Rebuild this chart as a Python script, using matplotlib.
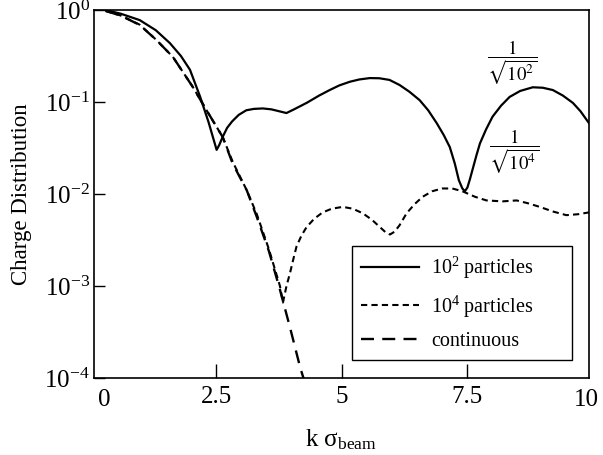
import matplotlib

matplotlib.use("Agg")
import matplotlib.pyplot as plt
import numpy as np
from matplotlib.ticker import FixedLocator, NullLocator

plt.rcParams["font.family"] = "serif"
plt.rcParams["font.serif"] = ["Liberation Serif", "DejaVu Serif"]
plt.rcParams["mathtext.fontset"] = "stix"

# values, stored as log10 of the charge distribution
k_solid = [0.3, 0.6, 0.98, 1.3, 1.58, 1.8, 1.98, 2.18, 2.35, 2.51, 2.56, 2.63, 2.72,
           2.82, 2.95, 3.1, 3.25, 3.43, 3.6, 3.75, 3.9, 4.05, 4.3, 4.55, 4.76, 4.95,
           5.16, 5.35, 5.56, 5.75, 5.95, 6.15, 6.35, 6.55, 6.72, 6.89, 7.03, 7.15,
           7.25, 7.33, 7.4, 7.45, 7.5, 7.55, 7.6, 7.68, 7.75, 7.87, 8.0, 8.17, 8.34,
           8.55, 8.8, 9.0, 9.2, 9.4, 9.6, 9.75, 9.92]
log_solid = [0.0, -0.04, -0.11, -0.22, -0.36, -0.50, -0.65, -0.94, -1.22, -1.52, -1.47,
             -1.38, -1.28, -1.21, -1.14, -1.09, -1.075, -1.07, -1.08, -1.10, -1.12,
             -1.08, -1.01, -0.93, -0.87, -0.82, -0.78, -0.755, -0.74, -0.742, -0.76,
             -0.815, -0.89, -0.98, -1.09, -1.23, -1.36, -1.49, -1.67, -1.85, -1.94,
             -1.97, -1.93, -1.84, -1.74, -1.58, -1.45, -1.30, -1.16, -1.04, -0.945,
             -0.88, -0.84, -0.845, -0.87, -0.93, -1.01, -1.10, -1.23]

k_dotted = [0.3, 0.6, 0.98, 1.3, 1.64, 2.04, 2.31, 2.63, 2.83, 3.11, 3.31, 3.55, 3.77,
            3.83, 3.9, 3.97, 4.04, 4.1, 4.2, 4.3, 4.45, 4.62, 4.8, 5.02, 5.22, 5.42,
            5.6, 5.76, 5.88, 5.96, 6.05, 6.15, 6.29, 6.45, 6.61, 6.8, 7.0, 7.2, 7.4,
            7.65, 7.88, 8.2, 8.48, 8.7, 8.94, 9.2, 9.47, 9.7, 9.92]
log_dotted = [-0.01, -0.06, -0.16, -0.32, -0.51, -0.84, -1.09, -1.38, -1.65, -1.96,
              -2.22, -2.6, -3.0, -3.18, -3.0, -2.86, -2.7, -2.57, -2.45, -2.36, -2.27,
              -2.2, -2.16, -2.14, -2.16, -2.21, -2.28, -2.36, -2.42, -2.44, -2.41,
              -2.34, -2.21, -2.11, -2.03, -1.97, -1.94, -1.94, -1.97, -2.03, -2.07,
              -2.08, -2.07, -2.1, -2.14, -2.19, -2.23, -2.22, -2.2]

k_cont = [0.3, 0.6, 0.98, 1.3, 1.64, 2.04, 2.31, 2.63, 2.83, 3.11, 3.31, 3.55, 3.77,
          3.97, 4.17, 4.35]
log_cont = [-0.01, -0.06, -0.163, -0.32, -0.51, -0.84, -1.09, -1.38, -1.67, -1.96,
            -2.25, -2.62, -3.04, -3.45, -3.88, -4.2]

series_labels = [r"$\mathregular{10^2}$ particles", r"$\mathregular{10^4}$ particles",
                 "continuous"]
xtick_values = [2.5, 5, 7.5]
xtick_labels = ["2.5", "5", "7.5"]
ytick_values = [1e-4, 1e-3, 1e-2, 1e-1, 1e0]
ytick_labels = [r"$\mathregular{10^{-4}}$", r"$\mathregular{10^{-3}}$",
                r"$\mathregular{10^{-2}}$", r"$\mathregular{10^{-1}}$",
                r"$\mathregular{10^{0}}$"]

fig = plt.figure(figsize=(6.03, 4.55), dpi=100)
ax = fig.add_axes([94 / 603, 1 - 378 / 455, 495 / 603, 368 / 455])

ax.semilogy(k_solid, 10 ** np.array(log_solid), color="black", lw=1.6,
            label=series_labels[0])
ax.semilogy(k_dotted, 10 ** np.array(log_dotted), color="black", lw=1.5,
            dashes=(3, 2), label=series_labels[1])
ax.semilogy(k_cont, 10 ** np.array(log_cont), color="black", lw=1.7,
            dashes=(5.5, 3.5), label=series_labels[2])

ax.set_xlim(0.07, 9.92)
ax.set_ylim(1e-4, 1)

ax.xaxis.set_major_locator(FixedLocator(xtick_values))
ax.set_xticklabels(xtick_labels)
ax.yaxis.set_major_locator(FixedLocator(ytick_values))
ax.set_yticklabels(ytick_labels)
ax.yaxis.set_minor_locator(NullLocator())
ax.xaxis.set_minor_locator(NullLocator())
ax.tick_params(axis="x", direction="in", length=10, width=1, labelsize=18, pad=6)
ax.tick_params(axis="y", direction="in", length=8, width=1, labelsize=18, pad=3)
for s in ax.spines.values():
    s.set_linewidth(1.2)

# end labels of the x axis sit just inside the frame
xt = ax.get_xaxis_transform()
ax.text(0.27, -0.03, "0", transform=xt, ha="center", va="top", fontsize=18)
ax.text(10.12, -0.03, "10", transform=xt, ha="right", va="top", fontsize=18,
        clip_on=False)

ax.set_xlabel(r"k $\mathregular{\sigma_{beam}}$", fontsize=18, labelpad=14)
ax.set_ylabel("Charge Distribution", fontsize=16.5, labelpad=9)

ax.text(8.4, 0.27, r"$\dfrac{1}{\sqrt{10^2}}$", ha="center", va="center", fontsize=13.5)
ax.text(8.44, 0.029, r"$\dfrac{1}{\sqrt{10^4}}$", ha="center", va="center",
        fontsize=13.5)

leg = ax.legend(loc="lower left", bbox_to_anchor=(0.521, 0.049, 0.445, 0.272),
                mode="expand", fontsize=14.5, handlelength=2.9, handletextpad=0.6,
                labelspacing=0.6, borderpad=0.45, borderaxespad=0, fancybox=False,
                framealpha=1, edgecolor="black")
leg.get_frame().set_linewidth(1.0)

fig.savefig("out.png", dpi=100)
